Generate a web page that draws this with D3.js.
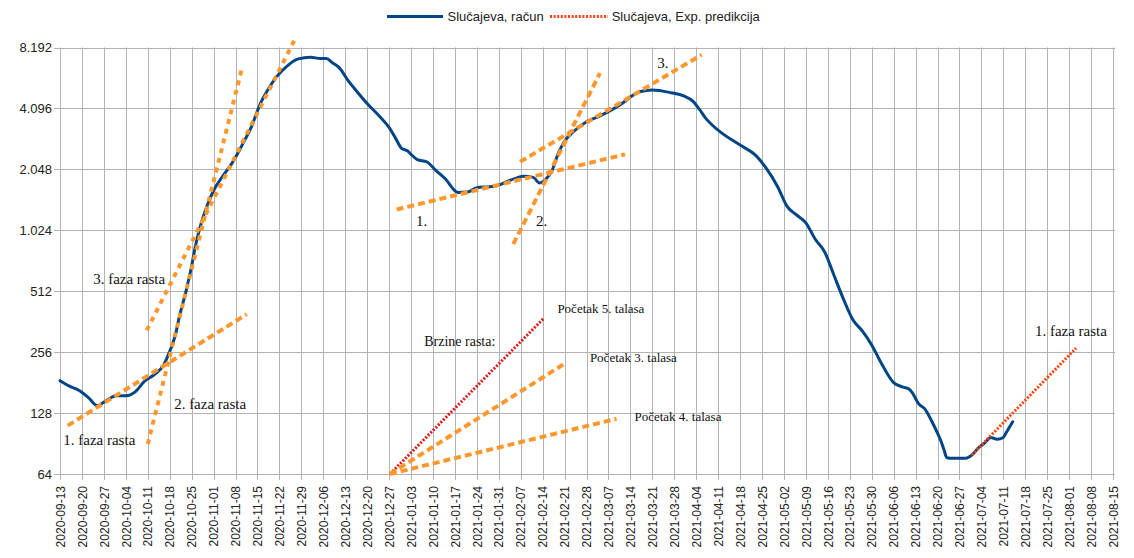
<!DOCTYPE html>
<html><head><meta charset="utf-8">
<script src="https://cdn.jsdelivr.net/npm/d3@7"></script>
<style>body{margin:0;background:#fff;} svg{display:block;}</style>
</head><body><svg id="c" width="1134" height="558"></svg>
<script>
// ---- data ----
const caseDates = ["2020-09-13","2020-09-16","2020-09-19","2020-09-22","2020-09-25","2020-09-27","2020-10-01","2020-10-04","2020-10-07","2020-10-10","2020-10-13","2020-10-16","2020-10-18","2020-10-19","2020-10-20","2020-10-21","2020-10-22","2020-10-23","2020-10-24","2020-10-25","2020-10-26","2020-10-27","2020-10-28","2020-10-30","2020-11-01","2020-11-04","2020-11-07","2020-11-10","2020-11-13","2020-11-16","2020-11-18","2020-11-21","2020-11-24","2020-11-28","2020-12-02","2020-12-05","2020-12-07","2020-12-09","2020-12-11","2020-12-14","2020-12-17","2020-12-20","2020-12-24","2020-12-27","2020-12-29","2020-12-31","2021-01-02","2021-01-03","2021-01-05","2021-01-08","2021-01-11","2021-01-14","2021-01-18","2021-01-21","2021-01-24","2021-01-27","2021-01-30","2021-02-02","2021-02-06","2021-02-08","2021-02-11","2021-02-13","2021-02-15","2021-02-17","2021-02-19","2021-02-21","2021-02-24","2021-02-28","2021-03-04","2021-03-08","2021-03-11","2021-03-14","2021-03-17","2021-03-21","2021-03-27","2021-03-31","2021-04-03","2021-04-05","2021-04-07","2021-04-09","2021-04-12","2021-04-18","2021-04-23","2021-04-26","2021-04-30","2021-05-03","2021-05-06","2021-05-09","2021-05-12","2021-05-15","2021-05-18","2021-05-21","2021-05-24","2021-05-27","2021-05-30","2021-06-02","2021-06-06","2021-06-09","2021-06-11","2021-06-12","2021-06-14","2021-06-16","2021-06-18","2021-06-20","2021-06-21","2021-06-22","2021-06-23","2021-06-25","2021-06-29","2021-07-01","2021-07-03","2021-07-05","2021-07-07","2021-07-09","2021-07-11","2021-07-12","2021-07-14"];
const caseValues = [185,174,166,153,139,145,156,156,163,184,198,220,258,283,320,378,435,495,580,680,825,965,1100,1360,1610,1900,2210,2680,3300,4350,4960,5850,6540,7200,7340,7225,7225,6870,6530,5600,4910,4330,3740,3300,2930,2600,2520,2430,2290,2233,2020,1835,1575,1582,1660,1678,1692,1764,1865,1892,1869,1755,1830,2020,2457,2820,3160,3520,3745,4030,4290,4665,4950,5055,4895,4720,4440,4060,3670,3400,3110,2700,2400,2111,1680,1345,1220,1115,925,800,612,468,370,326,278,227,181,172,168,161,142,134,118,102,94,85,77,76.5,76.5,79.5,86,91,97,95,97,103,116];

const predDates = ["2021-07-01T00:00","2021-08-03T05:00"];
const predValues = [79.5, 268];

const xTickLabels = ["2020-09-13","2020-09-20","2020-09-27","2020-10-04","2020-10-11","2020-10-18","2020-10-25","2020-11-01","2020-11-08","2020-11-15","2020-11-22","2020-11-29","2020-12-06","2020-12-13","2020-12-20","2020-12-27","2021-01-03","2021-01-10","2021-01-17","2021-01-24","2021-01-31","2021-02-07","2021-02-14","2021-02-21","2021-02-28","2021-03-07","2021-03-14","2021-03-21","2021-03-28","2021-04-04","2021-04-11","2021-04-18","2021-04-25","2021-05-02","2021-05-09","2021-05-16","2021-05-23","2021-05-30","2021-06-06","2021-06-13","2021-06-20","2021-06-27","2021-07-04","2021-07-11","2021-07-18","2021-07-25","2021-08-01","2021-08-08","2021-08-15"];
const yTickValues = [64,128,256,512,1024,2048,4096,8192];
const yTickLabels = ["64","128","256","512","1.024","2.048","4.096","8.192"];

const seriesNames = ["Slučajeva, račun","Slučajeva, Exp. predikcija"];

// annotation trend lines (from / to as date + value)
const trendIds = ["faza1","faza2","faza3","t1","t2","t3","speed5","speed3","speed4"];
const trendFromDates = ["2020-09-15T11:00","2020-10-11T00:00","2020-10-10T16:00","2020-12-29T10:00","2021-02-04T15:00","2021-02-06T19:00","2020-12-27T07:00","2020-12-27T07:00","2020-12-27T07:00"];
const trendFromValues = [111,90,328,1298,874,2233,64,64,64];
const trendToDates = ["2020-11-11T14:00","2020-11-10T00:00","2020-11-27T00:00","2021-03-12T07:00","2021-03-04T07:00","2021-04-05T18:00","2021-02-14T05:00","2021-02-21T16:00","2021-03-09T14:00"];
const trendToValues = [394,6406,9015,2430,6119,7539,374,228,120];

// annotation texts (left, baseline anchored to date + value)
const noteTexts = ["3. faza rasta","2. faza rasta","1. faza rasta","1.","2.","3.","Brzine rasta:","Početak 5. talasa","Početak 3. talasa","Početak 4. talasa","1. faza rasta"];
const noteDates = ["2020-09-23T14:00","2020-10-19T10:00","2020-09-14T01:00","2021-01-04T14:00","2021-02-11T22:00","2021-03-22T14:00","2021-01-07T05:00","2021-02-18T17:00","2021-03-01T02:00","2021-03-15T07:00","2021-07-21T02:00"];
const noteValues = [554,134,89.3,1081,1081,6488,273.6,401,228,117.4,306.6];
const noteKinds = ["big","big","big","big","big","big","mid","small","small","small","big"];

// ---- styles ----
const BLUE = "#004586", PRED = "#ff420e", ORANGE = "#ff972f", RED = "#dd1b1b", GRID = "#b3b3b3";
const trendStyle = {
  faza1:{c:ORANGE,w:4,d:"7,4"}, faza2:{c:ORANGE,w:4,d:"5,5"}, faza3:{c:ORANGE,w:4,d:"5,5"},
  t1:{c:ORANGE,w:4,d:"7,4"}, t2:{c:ORANGE,w:4,d:"7,4"}, t3:{c:ORANGE,w:4,d:"7,4"},
  speed5:{c:RED,w:3,d:"2,1.6"}, speed3:{c:ORANGE,w:4,d:"7,4"}, speed4:{c:ORANGE,w:4,d:"7,4"}
};
const noteSize = {big:15, mid:14, small:13};

// ---- chart ----
const pd = d3.utcParse("%Y-%m-%d"), pt = d3.utcParse("%Y-%m-%dT%H:%M");
const parse = s => s.length > 10 ? pt(s) : pd(s);

const svg = d3.select("#c");
const x = d3.scaleUtc().domain([pd("2020-09-13"), pd("2021-08-15")]).range([60, 1113]);
const y = d3.scaleLog().base(2).domain([64, 8192]).range([474, 47.5]);

// grid
const g = svg.append("g");
g.selectAll("line.v").data(xTickLabels).join("line")
  .attr("x1", d => Math.round(x(pd(d))) + 0.5).attr("x2", d => Math.round(x(pd(d))) + 0.5)
  .attr("y1", y(8192)).attr("y2", y(64) + 6)
  .attr("stroke", GRID).attr("stroke-width", 1);
g.selectAll("line.h").data(yTickValues).join("line")
  .attr("x1", x.range()[0] - 6).attr("x2", x.range()[1] + 2)
  .attr("y1", d => Math.round(y(d)) + 0.5).attr("y2", d => Math.round(y(d)) + 0.5)
  .attr("stroke", GRID).attr("stroke-width", 1);

// y labels
svg.append("g").selectAll("text").data(yTickValues).join("text")
  .attr("x", 52).attr("y", d => y(d)).attr("dy", "0.35em")
  .attr("text-anchor", "end")
  .attr("font-family", "Liberation Sans, Arial, sans-serif").attr("font-size", 13).attr("fill", "#222")
  .text((d, i) => yTickLabels[i]);

// x labels
svg.append("g").selectAll("text").data(xTickLabels).join("text")
  .attr("transform", d => `translate(${x(pd(d)) + 0.5},${y(64) + 12}) rotate(-90)`)
  .attr("text-anchor", "end").attr("dy", "0.35em")
  .attr("font-family", "Liberation Sans, Arial, sans-serif").attr("font-size", 12).attr("fill", "#222")
  .text(d => d);

// series: cases
const line = d3.line().x(d => x(d[0])).y(d => y(d[1])).curve(d3.curveMonotoneX);
const cases = caseDates.map((d, i) => [parse(d), caseValues[i]]);
svg.append("path").datum(cases).attr("d", line)
  .attr("fill", "none").attr("stroke", BLUE).attr("stroke-width", 3).attr("stroke-linejoin", "round").attr("stroke-linecap", "round");

// trend annotation lines
const lineStraight = d3.line().x(d => x(d[0])).y(d => y(d[1]));
trendIds.forEach((id, i) => {
  const st = trendStyle[id];
  svg.append("path")
    .datum([[parse(trendFromDates[i]), trendFromValues[i]], [parse(trendToDates[i]), trendToValues[i]]])
    .attr("d", lineStraight).attr("fill", "none")
    .attr("stroke", st.c).attr("stroke-width", st.w).attr("stroke-dasharray", st.d);
});

// series: prediction (on top)
const pred = predDates.map((d, i) => [parse(d), predValues[i]]);
svg.append("path").datum(pred).attr("d", lineStraight)
  .attr("fill", "none").attr("stroke", PRED).attr("stroke-width", 3).attr("stroke-dasharray", "2,1.6");

// notes
svg.append("g").selectAll("text").data(noteTexts).join("text")
  .attr("x", (d, i) => x(parse(noteDates[i])))
  .attr("y", (d, i) => y(noteValues[i]))
  .attr("font-family", "Liberation Serif, Times New Roman, serif")
  .attr("font-size", (d, i) => noteSize[noteKinds[i]])
  .attr("fill", "#111")
  .text(d => d);

// legend
const lg = svg.append("g").attr("font-family", "Liberation Sans, Arial, sans-serif").attr("font-size", 13).attr("fill", "#222");
lg.append("line").attr("x1", 387).attr("x2", 443).attr("y1", 16.5).attr("y2", 16.5).attr("stroke", BLUE).attr("stroke-width", 3);
lg.append("text").attr("x", 447.5).attr("y", 16.5).attr("dy", "0.35em").text(seriesNames[0]);
lg.append("line").attr("x1", 550).attr("x2", 608).attr("y1", 16.5).attr("y2", 16.5).attr("stroke", PRED).attr("stroke-width", 3).attr("stroke-dasharray", "2,1.6");
lg.append("text").attr("x", 611.7).attr("y", 16.5).attr("dy", "0.35em").text(seriesNames[1]);
</script>
</body></html>
